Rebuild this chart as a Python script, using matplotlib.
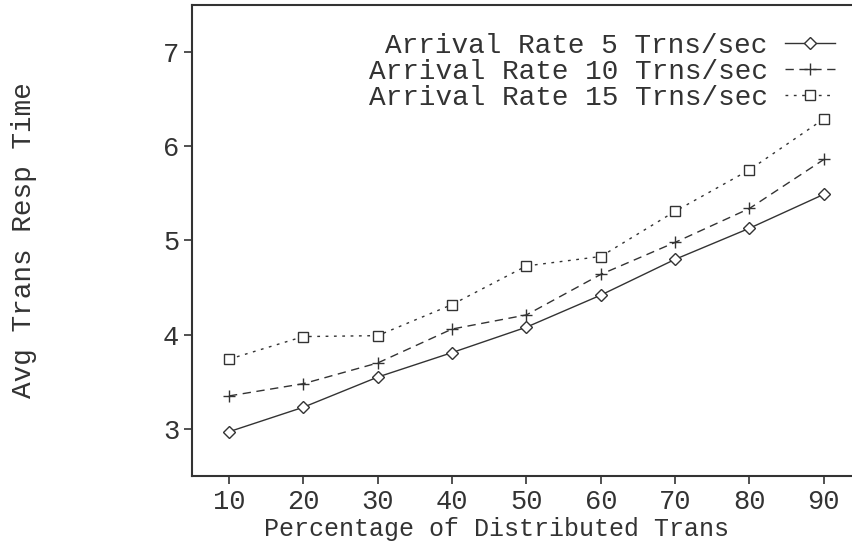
import matplotlib
matplotlib.use("Agg")
import matplotlib.pyplot as plt

# Percentage of distributed transactions
pct = [10, 20, 30, 40, 50, 60, 70, 80, 90]

# Avg transaction response time per arrival rate
rate5 = [2.97, 3.23, 3.55, 3.81, 4.08, 4.42, 4.80, 5.13, 5.49]
rate10 = [3.35, 3.48, 3.70, 4.06, 4.21, 4.64, 4.98, 5.34, 5.86]
rate15 = [3.74, 3.98, 3.99, 4.32, 4.73, 4.83, 5.31, 5.75, 6.29]

labels = ["Arrival Rate 5 Trns/sec", "Arrival Rate 10 Trns/sec",
          "Arrival Rate 15 Trns/sec"]

INK = "#333333"
plt.rcParams["font.family"] = ["Liberation Mono", "DejaVu Sans Mono"]

fig = plt.figure(figsize=(8.52, 5.5), dpi=100)
# axes runs off the right edge, like the cropped original
ax = fig.add_axes([0.2251, 0.1345, 0.7855, 0.8565])

ax.plot(pct, rate5, color=INK, lw=1.0, ls="-", marker="D", ms=6,
        mfc="white", mec=INK, mew=1.0, label=labels[0])
ax.plot(pct, rate10, color=INK, lw=1.0, ls=(0, (6, 4)), marker="+", ms=8,
        mec=INK, mew=1.0, label=labels[1])
ax.plot(pct, rate15, color=INK, lw=1.0, ls=(0, (2, 4)), marker="s", ms=7,
        mfc="white", mec=INK, mew=1.0, label=labels[2])

ax.set_xlim(5, 95)
ax.set_ylim(2.5, 7.5)
ax.set_xticks(pct)
ax.set_yticks([3, 4, 5, 6, 7])

for side in ("left", "top", "bottom"):
    ax.spines[side].set_color(INK)
    ax.spines[side].set_linewidth(1.5)
ax.spines["right"].set_visible(False)
ax.tick_params(direction="out", length=6, width=1.2, color=INK,
               labelsize=19.5, labelcolor=INK, pad=3)

ax.set_xlabel("Percentage of Distributed Trans", fontsize=18, color=INK)
ax.xaxis.set_label_coords(0.455, -0.087)
ax.set_ylabel("Avg Trans Resp Time", fontsize=20, color=INK)
ax.yaxis.set_label_coords(-0.232, 0.5)

ax.legend(loc="upper right", bbox_to_anchor=(0.977, 0.964), frameon=False,
          markerfirst=False, fontsize=20, handlelength=1.8,
          handletextpad=0.6, labelspacing=0.0, borderaxespad=0.0,
          labelcolor=INK)

fig.savefig("out.png", dpi=100, facecolor="white")
